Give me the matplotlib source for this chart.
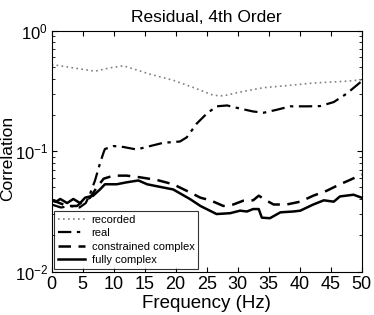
import matplotlib
matplotlib.use("Agg")
import matplotlib.pyplot as plt
import numpy as np

plt.rcParams["font.family"] = ["Liberation Sans", "DejaVu Sans"]
plt.rcParams["mathtext.fontset"] = "custom"
plt.rcParams["mathtext.rm"] = "Liberation Sans"

# recorded (dotted)
rec_f = [0, 0.3, 4.6, 7.0, 9.4, 11.6, 13.2, 15.9, 19.6, 22.9, 26.1, 27.7, 30.4, 34.2, 37.4, 42.2, 47.6, 50]
rec_v = [0.52, 0.52, 0.48, 0.46, 0.49, 0.51, 0.48, 0.434, 0.387, 0.336, 0.29, 0.287, 0.309, 0.336, 0.347, 0.367, 0.38, 0.39]

# real (dash-dot)
real_f = [0, 1.5, 3, 4.5, 5.5, 6.2, 7.0, 7.8, 8.4, 8.6, 10, 11.6, 13.7, 15.9, 18, 20.7, 21.8, 23.4, 25,
          26.6, 28.3, 30.4, 32.5, 34.2, 36.3, 38.5, 41.2, 43.3, 45.5, 47.6, 50]
real_v = [0.036, 0.034, 0.035, 0.034, 0.037, 0.044, 0.057, 0.079, 0.098, 0.104, 0.11, 0.108, 0.103, 0.11,
          0.117, 0.12, 0.13, 0.169, 0.204, 0.235, 0.239, 0.225, 0.213, 0.208, 0.22, 0.235, 0.235, 0.236,
          0.255, 0.3, 0.38]

# constrained complex (dashed)
con_f = [0, 0.3, 2.5, 4.1, 5.1, 6.2, 7.3, 8.4, 10, 12.1, 14.3, 17, 19.6, 22.3, 24, 25.6, 27.7, 29.3,
         30.9, 32.5, 33.4, 34.7, 35.8, 37.9, 40.1, 42.2, 44.4, 46.5, 48.1, 50]
con_v = [0.039, 0.0387, 0.035, 0.035, 0.0387, 0.041, 0.05, 0.059, 0.0625, 0.0625, 0.0605, 0.0575, 0.053,
         0.0454, 0.041, 0.039, 0.035, 0.036, 0.0387, 0.039, 0.0426, 0.0387, 0.036, 0.036, 0.038, 0.0426,
         0.0469, 0.053, 0.0575, 0.064]

# fully complex (solid)
full_f = [0, 0.7, 1.4, 2.5, 3.5, 4.6, 5.4, 6.7, 7.8, 8.6, 10.5, 12.1, 14, 15.4, 17, 19.6, 22.3, 24,
          26.6, 28.8, 30.4, 31.5, 32.5, 33.4, 33.9, 35.2, 36.9, 39, 40.1, 42.2, 43.9, 45.5, 46.5, 48.7, 50]
full_v = [0.0387, 0.038, 0.04, 0.037, 0.04, 0.037, 0.041, 0.0426, 0.048, 0.053, 0.053, 0.055, 0.057, 0.053,
          0.051, 0.048, 0.04, 0.035, 0.030, 0.0305, 0.032, 0.0315, 0.033, 0.033, 0.028, 0.0277, 0.031,
          0.0315, 0.032, 0.036, 0.039, 0.038, 0.042, 0.0434, 0.041]

fig = plt.figure(figsize=(3.74, 3.15), dpi=100)
ax = fig.add_axes([0.138, 0.138, 0.829, 0.765])

ax.plot(rec_f, rec_v, color="0.5", ls=(0, (1, 2)), lw=1.2, label="recorded")
ax.plot(real_f, real_v, color="black", ls=(0, (6, 2.5, 1.5, 2.5)), lw=1.6, label="real")
ax.plot(con_f, con_v, color="black", ls=(0, (5, 3)), lw=1.8, label="constrained complex")
ax.plot(full_f, full_v, color="black", ls="-", lw=1.8, label="fully complex")

ax.set_yscale("log")
ax.set_xlim(0, 50)
ax.set_ylim(1e-2, 1)
ax.set_xticks(np.arange(0, 51, 5))
ax.tick_params(which="both", direction="in", top=True, right=True, labelsize=13)
ax.tick_params(which="major", length=3.5)
ax.tick_params(which="minor", length=2)
ax.tick_params(axis="y", pad=2.5, labelsize=12)
for s in ax.spines.values():
    s.set_linewidth(0.8)

ax.set_title("Residual, 4th Order", fontsize=12.5, pad=6)
ax.set_xlabel("Frequency (Hz)", fontsize=13.5, labelpad=1)
ax.set_ylabel("Correlation", fontsize=12.5)
ax.yaxis.set_label_coords(-0.118, 0.47)

leg = ax.legend(loc="lower left", fontsize=8, frameon=True, fancybox=False, edgecolor="black",
                handlelength=2.4, handletextpad=0.6, labelspacing=0.3, borderpad=0.35,
                borderaxespad=0.25)
leg.get_frame().set_linewidth(0.8)

fig.savefig("out.png", dpi=100)
